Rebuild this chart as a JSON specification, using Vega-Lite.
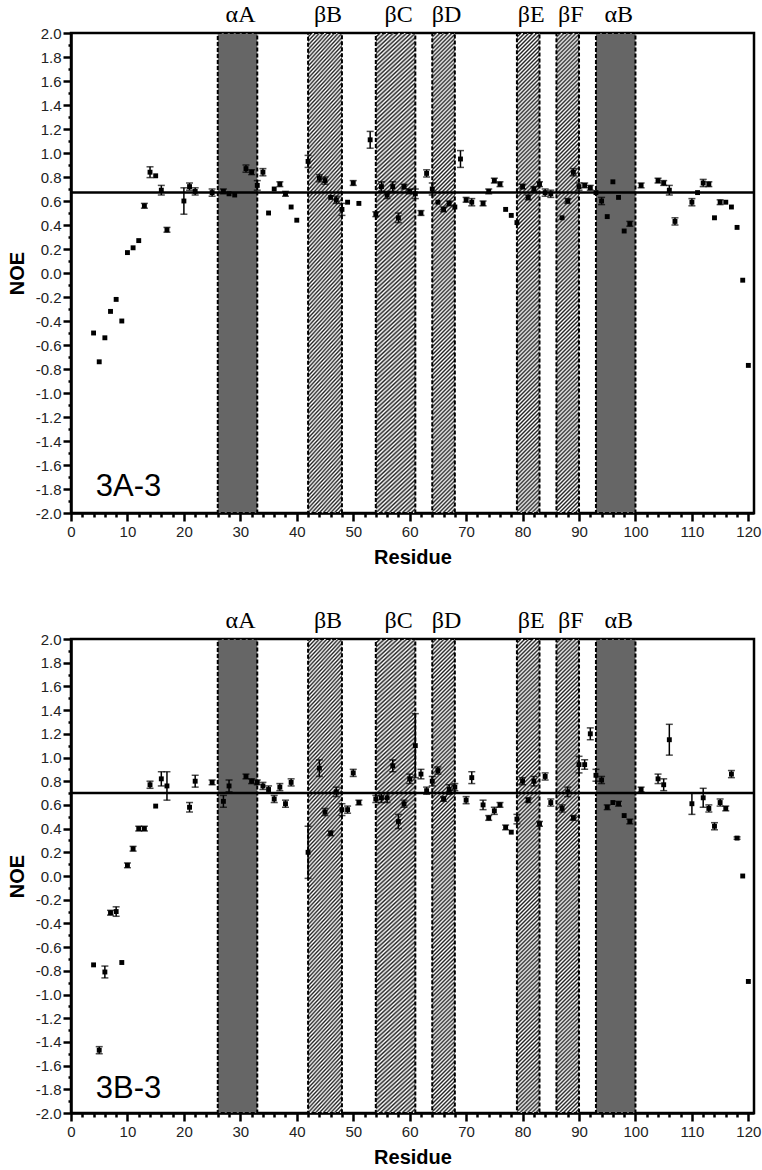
{
  "$schema": "https://vega.github.io/schema/vega-lite/v6.json",
  "background": "white",
  "autosize": {"type": "none"},
  "padding": {"left": 71, "top": 33, "right": 691, "bottom": 1137},
  "spacing": 126,
  "bounds": "flush",
  "config": {
    "view": {"stroke": "black", "strokeWidth": 2.5},
    "axis": {"grid": false}
  },
  "params": [
    {"name": "hatchN", "value": {"gradient": "linear", "x1": 0, "y1": 0, "x2": 0.0495, "y2": 1.045, "stops": [
      {"offset":0,"color":"#222"},{"offset":0.004,"color":"#fff"},{"offset":0.008,"color":"#222"},{"offset":0.012,"color":"#fff"},{"offset":0.016,"color":"#222"},{"offset":0.02,"color":"#fff"},{"offset":0.024,"color":"#222"},{"offset":0.028,"color":"#fff"},{"offset":0.032,"color":"#222"},{"offset":0.036,"color":"#fff"},
      {"offset":0.04,"color":"#222"},{"offset":0.044,"color":"#fff"},{"offset":0.048,"color":"#222"},{"offset":0.052,"color":"#fff"},{"offset":0.056,"color":"#222"},{"offset":0.06,"color":"#fff"},{"offset":0.064,"color":"#222"},{"offset":0.068,"color":"#fff"},{"offset":0.072,"color":"#222"},{"offset":0.076,"color":"#fff"},
      {"offset":0.08,"color":"#222"},{"offset":0.084,"color":"#fff"},{"offset":0.088,"color":"#222"},{"offset":0.092,"color":"#fff"},{"offset":0.096,"color":"#222"},{"offset":0.1,"color":"#fff"},{"offset":0.104,"color":"#222"},{"offset":0.108,"color":"#fff"},{"offset":0.112,"color":"#222"},{"offset":0.116,"color":"#fff"},
      {"offset":0.12,"color":"#222"},{"offset":0.124,"color":"#fff"},{"offset":0.128,"color":"#222"},{"offset":0.132,"color":"#fff"},{"offset":0.136,"color":"#222"},{"offset":0.14,"color":"#fff"},{"offset":0.144,"color":"#222"},{"offset":0.148,"color":"#fff"},{"offset":0.152,"color":"#222"},{"offset":0.156,"color":"#fff"},
      {"offset":0.16,"color":"#222"},{"offset":0.164,"color":"#fff"},{"offset":0.168,"color":"#222"},{"offset":0.172,"color":"#fff"},{"offset":0.176,"color":"#222"},{"offset":0.18,"color":"#fff"},{"offset":0.184,"color":"#222"},{"offset":0.188,"color":"#fff"},{"offset":0.192,"color":"#222"},{"offset":0.196,"color":"#fff"},
      {"offset":0.2,"color":"#222"},{"offset":0.204,"color":"#fff"},{"offset":0.208,"color":"#222"},{"offset":0.212,"color":"#fff"},{"offset":0.216,"color":"#222"},{"offset":0.22,"color":"#fff"},{"offset":0.224,"color":"#222"},{"offset":0.228,"color":"#fff"},{"offset":0.232,"color":"#222"},{"offset":0.236,"color":"#fff"},
      {"offset":0.24,"color":"#222"},{"offset":0.244,"color":"#fff"},{"offset":0.248,"color":"#222"},{"offset":0.252,"color":"#fff"},{"offset":0.256,"color":"#222"},{"offset":0.26,"color":"#fff"},{"offset":0.264,"color":"#222"},{"offset":0.268,"color":"#fff"},{"offset":0.272,"color":"#222"},{"offset":0.276,"color":"#fff"},
      {"offset":0.28,"color":"#222"},{"offset":0.284,"color":"#fff"},{"offset":0.288,"color":"#222"},{"offset":0.292,"color":"#fff"},{"offset":0.296,"color":"#222"},{"offset":0.3,"color":"#fff"},{"offset":0.304,"color":"#222"},{"offset":0.308,"color":"#fff"},{"offset":0.312,"color":"#222"},{"offset":0.316,"color":"#fff"},
      {"offset":0.32,"color":"#222"},{"offset":0.324,"color":"#fff"},{"offset":0.328,"color":"#222"},{"offset":0.332,"color":"#fff"},{"offset":0.336,"color":"#222"},{"offset":0.34,"color":"#fff"},{"offset":0.344,"color":"#222"},{"offset":0.348,"color":"#fff"},{"offset":0.352,"color":"#222"},{"offset":0.356,"color":"#fff"},
      {"offset":0.36,"color":"#222"},{"offset":0.364,"color":"#fff"},{"offset":0.368,"color":"#222"},{"offset":0.372,"color":"#fff"},{"offset":0.376,"color":"#222"},{"offset":0.38,"color":"#fff"},{"offset":0.384,"color":"#222"},{"offset":0.388,"color":"#fff"},{"offset":0.392,"color":"#222"},{"offset":0.396,"color":"#fff"},
      {"offset":0.4,"color":"#222"},{"offset":0.404,"color":"#fff"},{"offset":0.408,"color":"#222"},{"offset":0.412,"color":"#fff"},{"offset":0.416,"color":"#222"},{"offset":0.42,"color":"#fff"},{"offset":0.424,"color":"#222"},{"offset":0.428,"color":"#fff"},{"offset":0.432,"color":"#222"},{"offset":0.436,"color":"#fff"},
      {"offset":0.44,"color":"#222"},{"offset":0.444,"color":"#fff"},{"offset":0.448,"color":"#222"},{"offset":0.452,"color":"#fff"},{"offset":0.456,"color":"#222"},{"offset":0.46,"color":"#fff"},{"offset":0.464,"color":"#222"},{"offset":0.468,"color":"#fff"},{"offset":0.472,"color":"#222"},{"offset":0.476,"color":"#fff"},
      {"offset":0.48,"color":"#222"},{"offset":0.484,"color":"#fff"},{"offset":0.488,"color":"#222"},{"offset":0.492,"color":"#fff"},{"offset":0.496,"color":"#222"},{"offset":0.5,"color":"#fff"},{"offset":0.504,"color":"#222"},{"offset":0.508,"color":"#fff"},{"offset":0.512,"color":"#222"},{"offset":0.516,"color":"#fff"},
      {"offset":0.52,"color":"#222"},{"offset":0.524,"color":"#fff"},{"offset":0.528,"color":"#222"},{"offset":0.532,"color":"#fff"},{"offset":0.536,"color":"#222"},{"offset":0.54,"color":"#fff"},{"offset":0.544,"color":"#222"},{"offset":0.548,"color":"#fff"},{"offset":0.552,"color":"#222"},{"offset":0.556,"color":"#fff"},
      {"offset":0.56,"color":"#222"},{"offset":0.564,"color":"#fff"},{"offset":0.568,"color":"#222"},{"offset":0.572,"color":"#fff"},{"offset":0.576,"color":"#222"},{"offset":0.58,"color":"#fff"},{"offset":0.584,"color":"#222"},{"offset":0.588,"color":"#fff"},{"offset":0.592,"color":"#222"},{"offset":0.596,"color":"#fff"},
      {"offset":0.6,"color":"#222"},{"offset":0.604,"color":"#fff"},{"offset":0.608,"color":"#222"},{"offset":0.612,"color":"#fff"},{"offset":0.616,"color":"#222"},{"offset":0.62,"color":"#fff"},{"offset":0.624,"color":"#222"},{"offset":0.628,"color":"#fff"},{"offset":0.632,"color":"#222"},{"offset":0.636,"color":"#fff"},
      {"offset":0.64,"color":"#222"},{"offset":0.644,"color":"#fff"},{"offset":0.648,"color":"#222"},{"offset":0.652,"color":"#fff"},{"offset":0.656,"color":"#222"},{"offset":0.66,"color":"#fff"},{"offset":0.664,"color":"#222"},{"offset":0.668,"color":"#fff"},{"offset":0.672,"color":"#222"},{"offset":0.676,"color":"#fff"},
      {"offset":0.68,"color":"#222"},{"offset":0.684,"color":"#fff"},{"offset":0.688,"color":"#222"},{"offset":0.692,"color":"#fff"},{"offset":0.696,"color":"#222"},{"offset":0.7,"color":"#fff"},{"offset":0.704,"color":"#222"},{"offset":0.708,"color":"#fff"},{"offset":0.712,"color":"#222"},{"offset":0.716,"color":"#fff"},
      {"offset":0.72,"color":"#222"},{"offset":0.724,"color":"#fff"},{"offset":0.728,"color":"#222"},{"offset":0.732,"color":"#fff"},{"offset":0.736,"color":"#222"},{"offset":0.74,"color":"#fff"},{"offset":0.744,"color":"#222"},{"offset":0.748,"color":"#fff"},{"offset":0.752,"color":"#222"},{"offset":0.756,"color":"#fff"},
      {"offset":0.76,"color":"#222"},{"offset":0.764,"color":"#fff"},{"offset":0.768,"color":"#222"},{"offset":0.772,"color":"#fff"},{"offset":0.776,"color":"#222"},{"offset":0.78,"color":"#fff"},{"offset":0.784,"color":"#222"},{"offset":0.788,"color":"#fff"},{"offset":0.792,"color":"#222"},{"offset":0.796,"color":"#fff"},
      {"offset":0.8,"color":"#222"},{"offset":0.804,"color":"#fff"},{"offset":0.808,"color":"#222"},{"offset":0.812,"color":"#fff"},{"offset":0.816,"color":"#222"},{"offset":0.82,"color":"#fff"},{"offset":0.824,"color":"#222"},{"offset":0.828,"color":"#fff"},{"offset":0.832,"color":"#222"},{"offset":0.836,"color":"#fff"},
      {"offset":0.84,"color":"#222"},{"offset":0.844,"color":"#fff"},{"offset":0.848,"color":"#222"},{"offset":0.852,"color":"#fff"},{"offset":0.856,"color":"#222"},{"offset":0.86,"color":"#fff"},{"offset":0.864,"color":"#222"},{"offset":0.868,"color":"#fff"},{"offset":0.872,"color":"#222"},{"offset":0.876,"color":"#fff"},
      {"offset":0.88,"color":"#222"},{"offset":0.884,"color":"#fff"},{"offset":0.888,"color":"#222"},{"offset":0.892,"color":"#fff"},{"offset":0.896,"color":"#222"},{"offset":0.9,"color":"#fff"},{"offset":0.904,"color":"#222"},{"offset":0.908,"color":"#fff"},{"offset":0.912,"color":"#222"},{"offset":0.916,"color":"#fff"},
      {"offset":0.92,"color":"#222"},{"offset":0.924,"color":"#fff"},{"offset":0.928,"color":"#222"},{"offset":0.932,"color":"#fff"},{"offset":0.936,"color":"#222"},{"offset":0.94,"color":"#fff"},{"offset":0.944,"color":"#222"},{"offset":0.948,"color":"#fff"},{"offset":0.952,"color":"#222"},{"offset":0.956,"color":"#fff"},
      {"offset":0.96,"color":"#222"},{"offset":0.964,"color":"#fff"},{"offset":0.968,"color":"#222"},{"offset":0.972,"color":"#fff"},{"offset":0.976,"color":"#222"},{"offset":0.98,"color":"#fff"},{"offset":0.984,"color":"#222"},{"offset":0.988,"color":"#fff"},{"offset":0.992,"color":"#222"},{"offset":0.996,"color":"#fff"},
      {"offset":1,"color":"#222"}
    ]}},
    {"name": "hatchW", "value": {"gradient": "linear", "x1": 0, "y1": 0, "x2": 0.0824, "y2": 1.0706, "stops": [
      {"offset":0,"color":"#222"},{"offset":0.004,"color":"#fff"},{"offset":0.008,"color":"#222"},{"offset":0.012,"color":"#fff"},{"offset":0.016,"color":"#222"},{"offset":0.02,"color":"#fff"},{"offset":0.024,"color":"#222"},{"offset":0.028,"color":"#fff"},{"offset":0.032,"color":"#222"},{"offset":0.036,"color":"#fff"},
      {"offset":0.04,"color":"#222"},{"offset":0.044,"color":"#fff"},{"offset":0.048,"color":"#222"},{"offset":0.052,"color":"#fff"},{"offset":0.056,"color":"#222"},{"offset":0.06,"color":"#fff"},{"offset":0.064,"color":"#222"},{"offset":0.068,"color":"#fff"},{"offset":0.072,"color":"#222"},{"offset":0.076,"color":"#fff"},
      {"offset":0.08,"color":"#222"},{"offset":0.084,"color":"#fff"},{"offset":0.088,"color":"#222"},{"offset":0.092,"color":"#fff"},{"offset":0.096,"color":"#222"},{"offset":0.1,"color":"#fff"},{"offset":0.104,"color":"#222"},{"offset":0.108,"color":"#fff"},{"offset":0.112,"color":"#222"},{"offset":0.116,"color":"#fff"},
      {"offset":0.12,"color":"#222"},{"offset":0.124,"color":"#fff"},{"offset":0.128,"color":"#222"},{"offset":0.132,"color":"#fff"},{"offset":0.136,"color":"#222"},{"offset":0.14,"color":"#fff"},{"offset":0.144,"color":"#222"},{"offset":0.148,"color":"#fff"},{"offset":0.152,"color":"#222"},{"offset":0.156,"color":"#fff"},
      {"offset":0.16,"color":"#222"},{"offset":0.164,"color":"#fff"},{"offset":0.168,"color":"#222"},{"offset":0.172,"color":"#fff"},{"offset":0.176,"color":"#222"},{"offset":0.18,"color":"#fff"},{"offset":0.184,"color":"#222"},{"offset":0.188,"color":"#fff"},{"offset":0.192,"color":"#222"},{"offset":0.196,"color":"#fff"},
      {"offset":0.2,"color":"#222"},{"offset":0.204,"color":"#fff"},{"offset":0.208,"color":"#222"},{"offset":0.212,"color":"#fff"},{"offset":0.216,"color":"#222"},{"offset":0.22,"color":"#fff"},{"offset":0.224,"color":"#222"},{"offset":0.228,"color":"#fff"},{"offset":0.232,"color":"#222"},{"offset":0.236,"color":"#fff"},
      {"offset":0.24,"color":"#222"},{"offset":0.244,"color":"#fff"},{"offset":0.248,"color":"#222"},{"offset":0.252,"color":"#fff"},{"offset":0.256,"color":"#222"},{"offset":0.26,"color":"#fff"},{"offset":0.264,"color":"#222"},{"offset":0.268,"color":"#fff"},{"offset":0.272,"color":"#222"},{"offset":0.276,"color":"#fff"},
      {"offset":0.28,"color":"#222"},{"offset":0.284,"color":"#fff"},{"offset":0.288,"color":"#222"},{"offset":0.292,"color":"#fff"},{"offset":0.296,"color":"#222"},{"offset":0.3,"color":"#fff"},{"offset":0.304,"color":"#222"},{"offset":0.308,"color":"#fff"},{"offset":0.312,"color":"#222"},{"offset":0.316,"color":"#fff"},
      {"offset":0.32,"color":"#222"},{"offset":0.324,"color":"#fff"},{"offset":0.328,"color":"#222"},{"offset":0.332,"color":"#fff"},{"offset":0.336,"color":"#222"},{"offset":0.34,"color":"#fff"},{"offset":0.344,"color":"#222"},{"offset":0.348,"color":"#fff"},{"offset":0.352,"color":"#222"},{"offset":0.356,"color":"#fff"},
      {"offset":0.36,"color":"#222"},{"offset":0.364,"color":"#fff"},{"offset":0.368,"color":"#222"},{"offset":0.372,"color":"#fff"},{"offset":0.376,"color":"#222"},{"offset":0.38,"color":"#fff"},{"offset":0.384,"color":"#222"},{"offset":0.388,"color":"#fff"},{"offset":0.392,"color":"#222"},{"offset":0.396,"color":"#fff"},
      {"offset":0.4,"color":"#222"},{"offset":0.404,"color":"#fff"},{"offset":0.408,"color":"#222"},{"offset":0.412,"color":"#fff"},{"offset":0.416,"color":"#222"},{"offset":0.42,"color":"#fff"},{"offset":0.424,"color":"#222"},{"offset":0.428,"color":"#fff"},{"offset":0.432,"color":"#222"},{"offset":0.436,"color":"#fff"},
      {"offset":0.44,"color":"#222"},{"offset":0.444,"color":"#fff"},{"offset":0.448,"color":"#222"},{"offset":0.452,"color":"#fff"},{"offset":0.456,"color":"#222"},{"offset":0.46,"color":"#fff"},{"offset":0.464,"color":"#222"},{"offset":0.468,"color":"#fff"},{"offset":0.472,"color":"#222"},{"offset":0.476,"color":"#fff"},
      {"offset":0.48,"color":"#222"},{"offset":0.484,"color":"#fff"},{"offset":0.488,"color":"#222"},{"offset":0.492,"color":"#fff"},{"offset":0.496,"color":"#222"},{"offset":0.5,"color":"#fff"},{"offset":0.504,"color":"#222"},{"offset":0.508,"color":"#fff"},{"offset":0.512,"color":"#222"},{"offset":0.516,"color":"#fff"},
      {"offset":0.52,"color":"#222"},{"offset":0.524,"color":"#fff"},{"offset":0.528,"color":"#222"},{"offset":0.532,"color":"#fff"},{"offset":0.536,"color":"#222"},{"offset":0.54,"color":"#fff"},{"offset":0.544,"color":"#222"},{"offset":0.548,"color":"#fff"},{"offset":0.552,"color":"#222"},{"offset":0.556,"color":"#fff"},
      {"offset":0.56,"color":"#222"},{"offset":0.564,"color":"#fff"},{"offset":0.568,"color":"#222"},{"offset":0.572,"color":"#fff"},{"offset":0.576,"color":"#222"},{"offset":0.58,"color":"#fff"},{"offset":0.584,"color":"#222"},{"offset":0.588,"color":"#fff"},{"offset":0.592,"color":"#222"},{"offset":0.596,"color":"#fff"},
      {"offset":0.6,"color":"#222"},{"offset":0.604,"color":"#fff"},{"offset":0.608,"color":"#222"},{"offset":0.612,"color":"#fff"},{"offset":0.616,"color":"#222"},{"offset":0.62,"color":"#fff"},{"offset":0.624,"color":"#222"},{"offset":0.628,"color":"#fff"},{"offset":0.632,"color":"#222"},{"offset":0.636,"color":"#fff"},
      {"offset":0.64,"color":"#222"},{"offset":0.644,"color":"#fff"},{"offset":0.648,"color":"#222"},{"offset":0.652,"color":"#fff"},{"offset":0.656,"color":"#222"},{"offset":0.66,"color":"#fff"},{"offset":0.664,"color":"#222"},{"offset":0.668,"color":"#fff"},{"offset":0.672,"color":"#222"},{"offset":0.676,"color":"#fff"},
      {"offset":0.68,"color":"#222"},{"offset":0.684,"color":"#fff"},{"offset":0.688,"color":"#222"},{"offset":0.692,"color":"#fff"},{"offset":0.696,"color":"#222"},{"offset":0.7,"color":"#fff"},{"offset":0.704,"color":"#222"},{"offset":0.708,"color":"#fff"},{"offset":0.712,"color":"#222"},{"offset":0.716,"color":"#fff"},
      {"offset":0.72,"color":"#222"},{"offset":0.724,"color":"#fff"},{"offset":0.728,"color":"#222"},{"offset":0.732,"color":"#fff"},{"offset":0.736,"color":"#222"},{"offset":0.74,"color":"#fff"},{"offset":0.744,"color":"#222"},{"offset":0.748,"color":"#fff"},{"offset":0.752,"color":"#222"},{"offset":0.756,"color":"#fff"},
      {"offset":0.76,"color":"#222"},{"offset":0.764,"color":"#fff"},{"offset":0.768,"color":"#222"},{"offset":0.772,"color":"#fff"},{"offset":0.776,"color":"#222"},{"offset":0.78,"color":"#fff"},{"offset":0.784,"color":"#222"},{"offset":0.788,"color":"#fff"},{"offset":0.792,"color":"#222"},{"offset":0.796,"color":"#fff"},
      {"offset":0.8,"color":"#222"},{"offset":0.804,"color":"#fff"},{"offset":0.808,"color":"#222"},{"offset":0.812,"color":"#fff"},{"offset":0.816,"color":"#222"},{"offset":0.82,"color":"#fff"},{"offset":0.824,"color":"#222"},{"offset":0.828,"color":"#fff"},{"offset":0.832,"color":"#222"},{"offset":0.836,"color":"#fff"},
      {"offset":0.84,"color":"#222"},{"offset":0.844,"color":"#fff"},{"offset":0.848,"color":"#222"},{"offset":0.852,"color":"#fff"},{"offset":0.856,"color":"#222"},{"offset":0.86,"color":"#fff"},{"offset":0.864,"color":"#222"},{"offset":0.868,"color":"#fff"},{"offset":0.872,"color":"#222"},{"offset":0.876,"color":"#fff"},
      {"offset":0.88,"color":"#222"},{"offset":0.884,"color":"#fff"},{"offset":0.888,"color":"#222"},{"offset":0.892,"color":"#fff"},{"offset":0.896,"color":"#222"},{"offset":0.9,"color":"#fff"},{"offset":0.904,"color":"#222"},{"offset":0.908,"color":"#fff"},{"offset":0.912,"color":"#222"},{"offset":0.916,"color":"#fff"},
      {"offset":0.92,"color":"#222"},{"offset":0.924,"color":"#fff"},{"offset":0.928,"color":"#222"},{"offset":0.932,"color":"#fff"},{"offset":0.936,"color":"#222"},{"offset":0.94,"color":"#fff"},{"offset":0.944,"color":"#222"},{"offset":0.948,"color":"#fff"},{"offset":0.952,"color":"#222"},{"offset":0.956,"color":"#fff"},
      {"offset":0.96,"color":"#222"},{"offset":0.964,"color":"#fff"},{"offset":0.968,"color":"#222"},{"offset":0.972,"color":"#fff"},{"offset":0.976,"color":"#222"},{"offset":0.98,"color":"#fff"},{"offset":0.984,"color":"#222"},{"offset":0.988,"color":"#fff"},{"offset":0.992,"color":"#222"},{"offset":0.996,"color":"#fff"},
      {"offset":1,"color":"#222"}
    ]}}
  ],
  "datasets": {
    "bands": [
      {"label": "αA", "start": 26, "end": 33, "kind": "helix"},
      {"label": "βB", "start": 42, "end": 48, "kind": "strand"},
      {"label": "βC", "start": 54, "end": 61, "kind": "strand"},
      {"label": "βD", "start": 64, "end": 68, "kind": "strand"},
      {"label": "βE", "start": 79, "end": 83, "kind": "strand"},
      {"label": "βF", "start": 86, "end": 90, "kind": "strand"},
      {"label": "αB", "start": 93, "end": 100, "kind": "helix"}
    ],
    "a": [
      {"res": 4, "noe": -0.5, "err": 0}, {"res": 5, "noe": -0.74, "err": 0}, {"res": 6, "noe": -0.54, "err": 0},
      {"res": 7, "noe": -0.32, "err": 0}, {"res": 8, "noe": -0.22, "err": 0}, {"res": 9, "noe": -0.4, "err": 0},
      {"res": 10, "noe": 0.17, "err": 0}, {"res": 11, "noe": 0.21, "err": 0}, {"res": 12, "noe": 0.27, "err": 0},
      {"res": 13, "noe": 0.56, "err": 0.02}, {"res": 14, "noe": 0.84, "err": 0.045}, {"res": 15, "noe": 0.81, "err": 0},
      {"res": 16, "noe": 0.69, "err": 0.04}, {"res": 17, "noe": 0.36, "err": 0.02}, {"res": 20, "noe": 0.6, "err": 0.11},
      {"res": 21, "noe": 0.72, "err": 0.03}, {"res": 22, "noe": 0.68, "err": 0.03}, {"res": 25, "noe": 0.67, "err": 0.03},
      {"res": 27, "noe": 0.68, "err": 0.02}, {"res": 28, "noe": 0.66, "err": 0}, {"res": 29, "noe": 0.65, "err": 0},
      {"res": 31, "noe": 0.87, "err": 0.03}, {"res": 32, "noe": 0.84, "err": 0.02}, {"res": 33, "noe": 0.73, "err": 0.04},
      {"res": 34, "noe": 0.84, "err": 0.03}, {"res": 35, "noe": 0.5, "err": 0}, {"res": 36, "noe": 0.7, "err": 0},
      {"res": 37, "noe": 0.74, "err": 0.02}, {"res": 38, "noe": 0.66, "err": 0.02}, {"res": 39, "noe": 0.55, "err": 0},
      {"res": 40, "noe": 0.44, "err": 0}, {"res": 42, "noe": 0.93, "err": 0.05}, {"res": 44, "noe": 0.79, "err": 0.03},
      {"res": 45, "noe": 0.77, "err": 0.03}, {"res": 46, "noe": 0.63, "err": 0}, {"res": 47, "noe": 0.61, "err": 0.03},
      {"res": 48, "noe": 0.53, "err": 0.05}, {"res": 49, "noe": 0.59, "err": 0}, {"res": 50, "noe": 0.75, "err": 0.02},
      {"res": 51, "noe": 0.58, "err": 0}, {"res": 53, "noe": 1.11, "err": 0.07}, {"res": 54, "noe": 0.49, "err": 0.02},
      {"res": 55, "noe": 0.72, "err": 0.04}, {"res": 56, "noe": 0.65, "err": 0.03}, {"res": 57, "noe": 0.72, "err": 0.04},
      {"res": 58, "noe": 0.46, "err": 0.04}, {"res": 59, "noe": 0.72, "err": 0.02}, {"res": 60, "noe": 0.68, "err": 0.02},
      {"res": 61, "noe": 0.66, "err": 0.04}, {"res": 62, "noe": 0.5, "err": 0.02}, {"res": 63, "noe": 0.83, "err": 0.03},
      {"res": 64, "noe": 0.7, "err": 0.05}, {"res": 65, "noe": 0.59, "err": 0}, {"res": 66, "noe": 0.53, "err": 0.02},
      {"res": 67, "noe": 0.58, "err": 0.02}, {"res": 68, "noe": 0.55, "err": 0}, {"res": 69, "noe": 0.95, "err": 0.07},
      {"res": 70, "noe": 0.61, "err": 0.02}, {"res": 71, "noe": 0.59, "err": 0.03}, {"res": 73, "noe": 0.58, "err": 0.02},
      {"res": 74, "noe": 0.68, "err": 0.02}, {"res": 75, "noe": 0.77, "err": 0.02}, {"res": 76, "noe": 0.74, "err": 0.02},
      {"res": 77, "noe": 0.53, "err": 0}, {"res": 78, "noe": 0.48, "err": 0}, {"res": 79, "noe": 0.42, "err": 0},
      {"res": 80, "noe": 0.72, "err": 0.02}, {"res": 81, "noe": 0.63, "err": 0.02}, {"res": 82, "noe": 0.7, "err": 0.02},
      {"res": 83, "noe": 0.74, "err": 0.02}, {"res": 84, "noe": 0.67, "err": 0.03}, {"res": 85, "noe": 0.66, "err": 0.03},
      {"res": 87, "noe": 0.46, "err": 0}, {"res": 88, "noe": 0.6, "err": 0.02}, {"res": 89, "noe": 0.84, "err": 0.03},
      {"res": 90, "noe": 0.72, "err": 0.03}, {"res": 91, "noe": 0.73, "err": 0.02}, {"res": 92, "noe": 0.71, "err": 0.02},
      {"res": 93, "noe": 0.67, "err": 0}, {"res": 94, "noe": 0.6, "err": 0.03}, {"res": 95, "noe": 0.47, "err": 0},
      {"res": 96, "noe": 0.76, "err": 0}, {"res": 97, "noe": 0.63, "err": 0}, {"res": 98, "noe": 0.35, "err": 0},
      {"res": 99, "noe": 0.41, "err": 0.02}, {"res": 101, "noe": 0.73, "err": 0.02}, {"res": 104, "noe": 0.77, "err": 0.02},
      {"res": 105, "noe": 0.75, "err": 0.02}, {"res": 106, "noe": 0.69, "err": 0.04}, {"res": 107, "noe": 0.43, "err": 0.03},
      {"res": 110, "noe": 0.59, "err": 0.03}, {"res": 111, "noe": 0.67, "err": 0}, {"res": 112, "noe": 0.75, "err": 0.03},
      {"res": 113, "noe": 0.74, "err": 0.02}, {"res": 114, "noe": 0.46, "err": 0}, {"res": 115, "noe": 0.59, "err": 0.02},
      {"res": 116, "noe": 0.59, "err": 0}, {"res": 117, "noe": 0.55, "err": 0}, {"res": 118, "noe": 0.38, "err": 0},
      {"res": 119, "noe": -0.06, "err": 0}, {"res": 120, "noe": -0.77, "err": 0}
    ],
    "b": [
      {"res": 4, "noe": -0.75, "err": 0}, {"res": 5, "noe": -1.47, "err": 0.03}, {"res": 6, "noe": -0.81, "err": 0.05},
      {"res": 7, "noe": -0.31, "err": 0.02}, {"res": 8, "noe": -0.3, "err": 0.04}, {"res": 9, "noe": -0.73, "err": 0},
      {"res": 10, "noe": 0.09, "err": 0.02}, {"res": 11, "noe": 0.23, "err": 0.02}, {"res": 12, "noe": 0.4, "err": 0.02},
      {"res": 13, "noe": 0.4, "err": 0.02}, {"res": 14, "noe": 0.77, "err": 0.03}, {"res": 15, "noe": 0.59, "err": 0},
      {"res": 16, "noe": 0.82, "err": 0.06}, {"res": 17, "noe": 0.76, "err": 0.12}, {"res": 21, "noe": 0.58, "err": 0.04},
      {"res": 22, "noe": 0.8, "err": 0.05}, {"res": 25, "noe": 0.79, "err": 0.02}, {"res": 27, "noe": 0.63, "err": 0.05},
      {"res": 28, "noe": 0.76, "err": 0.05}, {"res": 31, "noe": 0.84, "err": 0.02}, {"res": 32, "noe": 0.8, "err": 0.02},
      {"res": 33, "noe": 0.79, "err": 0.02}, {"res": 34, "noe": 0.76, "err": 0.03}, {"res": 35, "noe": 0.73, "err": 0.03},
      {"res": 36, "noe": 0.65, "err": 0.03}, {"res": 37, "noe": 0.75, "err": 0.03}, {"res": 38, "noe": 0.61, "err": 0.03},
      {"res": 39, "noe": 0.79, "err": 0.03}, {"res": 42, "noe": 0.2, "err": 0.22}, {"res": 44, "noe": 0.91, "err": 0.07},
      {"res": 45, "noe": 0.54, "err": 0.03}, {"res": 46, "noe": 0.36, "err": 0.02}, {"res": 47, "noe": 0.71, "err": 0.04},
      {"res": 48, "noe": 0.56, "err": 0.05}, {"res": 49, "noe": 0.56, "err": 0.03}, {"res": 50, "noe": 0.87, "err": 0.03},
      {"res": 51, "noe": 0.62, "err": 0.02}, {"res": 54, "noe": 0.65, "err": 0.03}, {"res": 55, "noe": 0.66, "err": 0.04},
      {"res": 56, "noe": 0.66, "err": 0.04}, {"res": 57, "noe": 0.93, "err": 0.05}, {"res": 58, "noe": 0.46, "err": 0.06},
      {"res": 59, "noe": 0.61, "err": 0.03}, {"res": 60, "noe": 0.82, "err": 0.04}, {"res": 61, "noe": 1.1, "err": 0.27},
      {"res": 62, "noe": 0.86, "err": 0.04}, {"res": 63, "noe": 0.72, "err": 0.03}, {"res": 64, "noe": 0.8, "err": 0.04},
      {"res": 65, "noe": 0.89, "err": 0.03}, {"res": 66, "noe": 0.65, "err": 0.02}, {"res": 67, "noe": 0.73, "err": 0.04},
      {"res": 68, "noe": 0.75, "err": 0.03}, {"res": 70, "noe": 0.64, "err": 0.03}, {"res": 71, "noe": 0.83, "err": 0.05},
      {"res": 73, "noe": 0.6, "err": 0.04}, {"res": 74, "noe": 0.49, "err": 0.02}, {"res": 75, "noe": 0.55, "err": 0.03},
      {"res": 76, "noe": 0.6, "err": 0.02}, {"res": 77, "noe": 0.41, "err": 0.02}, {"res": 78, "noe": 0.37, "err": 0},
      {"res": 79, "noe": 0.48, "err": 0.04}, {"res": 80, "noe": 0.8, "err": 0.03}, {"res": 81, "noe": 0.64, "err": 0.02},
      {"res": 82, "noe": 0.8, "err": 0.04}, {"res": 83, "noe": 0.44, "err": 0.02}, {"res": 84, "noe": 0.84, "err": 0.03},
      {"res": 85, "noe": 0.62, "err": 0.03}, {"res": 87, "noe": 0.57, "err": 0.03}, {"res": 88, "noe": 0.71, "err": 0.04},
      {"res": 89, "noe": 0.49, "err": 0.02}, {"res": 90, "noe": 0.94, "err": 0.07}, {"res": 91, "noe": 0.94, "err": 0.04},
      {"res": 92, "noe": 1.2, "err": 0.05}, {"res": 93, "noe": 0.85, "err": 0.05}, {"res": 94, "noe": 0.81, "err": 0.03},
      {"res": 95, "noe": 0.58, "err": 0.02}, {"res": 96, "noe": 0.62, "err": 0}, {"res": 97, "noe": 0.61, "err": 0.02},
      {"res": 98, "noe": 0.51, "err": 0}, {"res": 99, "noe": 0.46, "err": 0.02}, {"res": 101, "noe": 0.73, "err": 0.02},
      {"res": 104, "noe": 0.82, "err": 0.04}, {"res": 105, "noe": 0.77, "err": 0.05}, {"res": 106, "noe": 1.15, "err": 0.13},
      {"res": 110, "noe": 0.61, "err": 0.09}, {"res": 112, "noe": 0.66, "err": 0.08}, {"res": 113, "noe": 0.57, "err": 0.03},
      {"res": 114, "noe": 0.42, "err": 0.03}, {"res": 115, "noe": 0.62, "err": 0.03}, {"res": 116, "noe": 0.57, "err": 0.02},
      {"res": 117, "noe": 0.86, "err": 0.03}, {"res": 118, "noe": 0.32, "err": 0.01}, {"res": 119, "noe": 0.0, "err": 0},
      {"res": 120, "noe": -0.89, "err": 0}
    ]
  },
  "vconcat": [
    {
      "width": 683,
      "height": 480,
      "encoding": {
        "x": {
          "type": "quantitative",
          "scale": {"domain": [0, 121], "nice": false, "zero": false},
          "axis": {
            "title": "Residue",
            "values": [0,2,4,6,8,10,12,14,16,18,20,22,24,26,28,30,32,34,36,38,40,42,44,46,48,50,52,54,56,58,60,62,64,66,68,70,72,74,76,78,80,82,84,86,88,90,92,94,96,98,100,102,104,106,108,110,112,114,116,118,120],
            "labelExpr": "datum.value % 10 == 0 ? datum.label : ''",
            "labelOverlap": false, "labelFlush": false,
            "tickSize": {"condition": {"test": "datum.value % 10 == 0", "value": 8}, "value": 4},
            "tickWidth": 2.5, "tickColor": "black", "domainColor": "black", "domainWidth": 2.5,
            "labelFont": "Liberation Sans", "labelFontSize": 15, "labelColor": "#222", "labelPadding": 3,
            "titleFont": "Liberation Sans", "titleFontWeight": "bold", "titleFontSize": 20, "titleColor": "black", "titlePadding": 8
          }
        },
        "y": {
          "type": "quantitative",
          "scale": {"domain": [-2, 2], "nice": false, "zero": false},
          "axis": {
            "title": "NOE",
            "values": [-2,-1.9,-1.8,-1.7,-1.6,-1.5,-1.4,-1.3,-1.2,-1.1,-1,-0.9,-0.8,-0.7,-0.6,-0.5,-0.4,-0.3,-0.2,-0.1,0,0.1,0.2,0.3,0.4,0.5,0.6,0.7,0.8,0.9,1,1.1,1.2,1.3,1.4,1.5,1.6,1.7,1.8,1.9,2],
            "labelExpr": "abs(round(datum.value*10)) % 2 == 0 ? replace(format(datum.value, '.1f'), '\u2212', '-') : ''",
            "labelOverlap": false, "labelFlush": false,
            "tickSize": {"condition": {"test": "abs(round(datum.value*10)) % 2 == 0", "value": 8}, "value": 3},
            "tickWidth": 2.5, "tickColor": "black", "domainColor": "black", "domainWidth": 2.5,
            "labelFont": "Liberation Sans", "labelFontSize": 15, "labelColor": "#222", "labelPadding": 2,
            "titleFont": "Liberation Sans", "titleFontWeight": "bold", "titleFontSize": 20, "titleColor": "black", "titlePadding": 8
          }
        }
      },
      "layer": [
        {
          "data": {"name": "bands"},
          "transform": [{"filter": "datum.kind == 'helix'"}],
          "mark": {"type": "rect", "fill": "#666666", "stroke": "black", "strokeWidth": 2, "strokeDash": [4, 2]},
          "encoding": {"x": {"field": "start"}, "x2": {"field": "end"}, "y": {"datum": 2}, "y2": {"datum": -2}}
        },
        {
          "data": {"name": "bands"},
          "transform": [{"filter": "datum.kind == 'strand' && datum.end - datum.start < 5"}],
          "mark": {"type": "rect", "fill": {"expr": "hatchN"}, "stroke": "black", "strokeWidth": 2, "strokeDash": [4, 2]},
          "encoding": {"x": {"field": "start"}, "x2": {"field": "end"}, "y": {"datum": 2}, "y2": {"datum": -2}}
        },
        {
          "data": {"name": "bands"},
          "transform": [{"filter": "datum.kind == 'strand' && datum.end - datum.start >= 5"}],
          "mark": {"type": "rect", "fill": {"expr": "hatchW"}, "stroke": "black", "strokeWidth": 2, "strokeDash": [4, 2]},
          "encoding": {"x": {"field": "start"}, "x2": {"field": "end"}, "y": {"datum": 2}, "y2": {"datum": -2}}
        },
        {
          "data": {"name": "bands"},
          "transform": [{"fold": ["start", "end"], "as": ["edge", "pos"]}],
          "mark": {"type": "text", "font": "Liberation Serif", "fontSize": 24, "baseline": "alphabetic", "align": "center", "dy": -11, "dx": 3, "color": "black"},
          "encoding": {
            "x": {"field": "pos", "aggregate": "mean"},
            "y": {"datum": 2},
            "text": {"field": "label", "type": "nominal"}
          }
        },
        {
          "data": {"values": [{"level": 0.67}]},
          "mark": {"type": "rule", "color": "black", "strokeWidth": 2.5},
          "encoding": {"y": {"field": "level"}}
        },
        {
          "data": {"name": "a"},
          "transform": [{"filter": "datum.err > 0"}],
          "mark": {"type": "errorbar", "color": "black", "thickness": 1.5, "ticks": {"size": 7}},
          "encoding": {"x": {"field": "res"}, "y": {"field": "noe"}, "yError": {"field": "err"}}
        },
        {
          "data": {"name": "a"},
          "mark": {"type": "point", "shape": "square", "filled": true, "color": "black", "size": 24, "opacity": 1},
          "encoding": {"x": {"field": "res"}, "y": {"field": "noe"}}
        },
        {
          "data": {"values": [{"panel": "3A-3"}]},
          "mark": {"type": "text", "font": "Liberation Sans", "fontSize": 31, "align": "left", "baseline": "middle", "color": "black"},
          "encoding": {"x": {"datum": 4.4}, "y": {"datum": -1.78}, "text": {"field": "panel", "type": "nominal"}}
        }
      ]
    },
    {
      "width": 683,
      "height": 474,
      "encoding": {
        "x": {
          "type": "quantitative",
          "scale": {"domain": [0, 121], "nice": false, "zero": false},
          "axis": {
            "title": "Residue",
            "values": [0,2,4,6,8,10,12,14,16,18,20,22,24,26,28,30,32,34,36,38,40,42,44,46,48,50,52,54,56,58,60,62,64,66,68,70,72,74,76,78,80,82,84,86,88,90,92,94,96,98,100,102,104,106,108,110,112,114,116,118,120],
            "labelExpr": "datum.value % 10 == 0 ? datum.label : ''",
            "labelOverlap": false, "labelFlush": false,
            "tickSize": {"condition": {"test": "datum.value % 10 == 0", "value": 8}, "value": 4},
            "tickWidth": 2.5, "tickColor": "black", "domainColor": "black", "domainWidth": 2.5,
            "labelFont": "Liberation Sans", "labelFontSize": 15, "labelColor": "#222", "labelPadding": 3,
            "titleFont": "Liberation Sans", "titleFontWeight": "bold", "titleFontSize": 20, "titleColor": "black", "titlePadding": 8
          }
        },
        "y": {
          "type": "quantitative",
          "scale": {"domain": [-2, 2], "nice": false, "zero": false},
          "axis": {
            "title": "NOE",
            "values": [-2,-1.9,-1.8,-1.7,-1.6,-1.5,-1.4,-1.3,-1.2,-1.1,-1,-0.9,-0.8,-0.7,-0.6,-0.5,-0.4,-0.3,-0.2,-0.1,0,0.1,0.2,0.3,0.4,0.5,0.6,0.7,0.8,0.9,1,1.1,1.2,1.3,1.4,1.5,1.6,1.7,1.8,1.9,2],
            "labelExpr": "abs(round(datum.value*10)) % 2 == 0 ? replace(format(datum.value, '.1f'), '\u2212', '-') : ''",
            "labelOverlap": false, "labelFlush": false,
            "tickSize": {"condition": {"test": "abs(round(datum.value*10)) % 2 == 0", "value": 8}, "value": 3},
            "tickWidth": 2.5, "tickColor": "black", "domainColor": "black", "domainWidth": 2.5,
            "labelFont": "Liberation Sans", "labelFontSize": 15, "labelColor": "#222", "labelPadding": 2,
            "titleFont": "Liberation Sans", "titleFontWeight": "bold", "titleFontSize": 20, "titleColor": "black", "titlePadding": 8
          }
        }
      },
      "layer": [
        {
          "data": {"name": "bands"},
          "transform": [{"filter": "datum.kind == 'helix'"}],
          "mark": {"type": "rect", "fill": "#666666", "stroke": "black", "strokeWidth": 2, "strokeDash": [4, 2]},
          "encoding": {"x": {"field": "start"}, "x2": {"field": "end"}, "y": {"datum": 2}, "y2": {"datum": -2}}
        },
        {
          "data": {"name": "bands"},
          "transform": [{"filter": "datum.kind == 'strand' && datum.end - datum.start < 5"}],
          "mark": {"type": "rect", "fill": {"expr": "hatchN"}, "stroke": "black", "strokeWidth": 2, "strokeDash": [4, 2]},
          "encoding": {"x": {"field": "start"}, "x2": {"field": "end"}, "y": {"datum": 2}, "y2": {"datum": -2}}
        },
        {
          "data": {"name": "bands"},
          "transform": [{"filter": "datum.kind == 'strand' && datum.end - datum.start >= 5"}],
          "mark": {"type": "rect", "fill": {"expr": "hatchW"}, "stroke": "black", "strokeWidth": 2, "strokeDash": [4, 2]},
          "encoding": {"x": {"field": "start"}, "x2": {"field": "end"}, "y": {"datum": 2}, "y2": {"datum": -2}}
        },
        {
          "data": {"name": "bands"},
          "transform": [{"fold": ["start", "end"], "as": ["edge", "pos"]}],
          "mark": {"type": "text", "font": "Liberation Serif", "fontSize": 24, "baseline": "alphabetic", "align": "center", "dy": -11, "dx": 3, "color": "black"},
          "encoding": {
            "x": {"field": "pos", "aggregate": "mean"},
            "y": {"datum": 2},
            "text": {"field": "label", "type": "nominal"}
          }
        },
        {
          "data": {"values": [{"level": 0.7}]},
          "mark": {"type": "rule", "color": "black", "strokeWidth": 2.5},
          "encoding": {"y": {"field": "level"}}
        },
        {
          "data": {"name": "b"},
          "transform": [{"filter": "datum.err > 0"}],
          "mark": {"type": "errorbar", "color": "black", "thickness": 1.5, "ticks": {"size": 7}},
          "encoding": {"x": {"field": "res"}, "y": {"field": "noe"}, "yError": {"field": "err"}}
        },
        {
          "data": {"name": "b"},
          "mark": {"type": "point", "shape": "square", "filled": true, "color": "black", "size": 24, "opacity": 1},
          "encoding": {"x": {"field": "res"}, "y": {"field": "noe"}}
        },
        {
          "data": {"values": [{"panel": "3B-3"}]},
          "mark": {"type": "text", "font": "Liberation Sans", "fontSize": 31, "align": "left", "baseline": "middle", "color": "black"},
          "encoding": {"x": {"datum": 4.4}, "y": {"datum": -1.8}, "text": {"field": "panel", "type": "nominal"}}
        }
      ]
    }
  ]
}
